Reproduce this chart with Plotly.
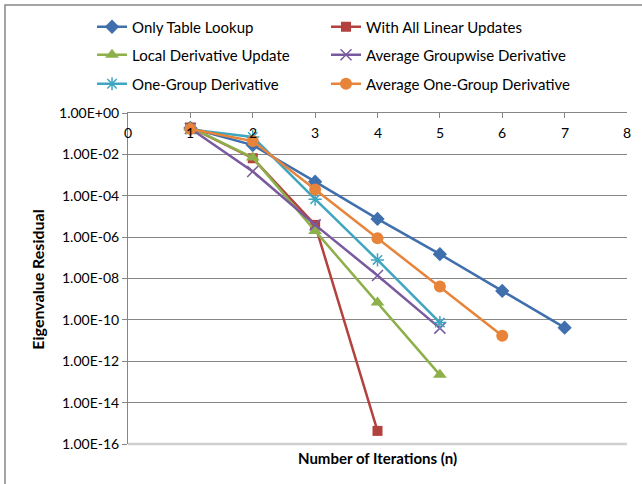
import plotly.graph_objects as go

iterations = [1, 2, 3, 4, 5, 6, 7]
only_table = [1.9e-1, 2.8e-2, 4.8e-4, 7.6e-6, 1.5e-7, 2.5e-9, 4.2e-11]
all_linear = [2.0e-1, 6.5e-3, 3.9e-6, 4.3e-16]
local_deriv = [2.0e-1, 7.0e-3, 2.0e-6, 6.9e-10, 2.2e-13]
avg_groupwise = [1.8e-1, 1.5e-3, 3.9e-6, 1.4e-8, 4.0e-11]
one_group = [1.6e-1, 7.0e-2, 6.8e-5, 7.9e-8, 7.4e-11]
avg_one_group = [1.7e-1, 4.4e-2, 2.0e-4, 8.8e-7, 4.1e-9, 1.7e-11]

y_tick_vals = [10.0 ** -k for k in range(0, 17, 2)]
y_tick_text = ["1.00E+00", "1.00E-02", "1.00E-04", "1.00E-06", "1.00E-08",
               "1.00E-10", "1.00E-12", "1.00E-14", "1.00E-16"]
x_ticks = [0, 1, 2, 3, 4, 5, 6, 7, 8]

series = [
    ("Only Table Lookup", only_table, "#3F6FAD", dict(symbol="diamond", size=11)),
    ("With All Linear Updates", all_linear, "#B3413E", dict(symbol="square", size=10)),
    ("Local Derivative Update", local_deriv, "#8DB04A", dict(symbol="triangle-up", size=12)),
    ("Average Groupwise Derivative", avg_groupwise, "#7A5A9E",
     dict(symbol="x-thin", size=11, line=dict(width=1.5, color="#7A5A9E"))),
    ("One-Group Derivative", one_group, "#3FA5C0",
     dict(symbol="asterisk", size=11, line=dict(width=1.5, color="#3FA5C0"))),
    ("Average One-Group Derivative", avg_one_group, "#E8833A", dict(symbol="circle", size=12)),
]

# legend slot positions (paper coords): two columns, three rows
legend_cols = [-0.0721, 0.3968]
legend_rows = [1.2598, 1.1752, 1.0876]

fig = go.Figure()
legend_layout = {}
for i, (name, vals, color, marker) in enumerate(series):
    m = dict(color=color)
    m.update(marker)
    lg = "legend" if i == 0 else f"legend{i + 1}"
    fig.add_trace(go.Scatter(
        x=iterations[:len(vals)], y=vals, name=name, mode="lines+markers",
        line=dict(color=color, width=2.5), marker=m, legend=lg,
    ))
    legend_layout[lg] = dict(
        orientation="h", x=legend_cols[i % 2], y=legend_rows[i // 2],
        xanchor="left", yanchor="middle", font=dict(size=15),
        itemwidth=30, bgcolor="rgba(0,0,0,0)")

font = dict(family="Lato, Open Sans, sans-serif", size=13, color="#000000")

annotations = [
    dict(text="<b>Number of Iterations (n)</b>", xref="paper", yref="paper",
         x=0.5, y=-0.042, xanchor="center", yanchor="middle", showarrow=False,
         font=dict(size=15)),
    dict(text="<b>Eigenvalue Residual</b>", xref="paper", yref="paper",
         x=-0.182, y=0.497, xanchor="center", yanchor="middle", showarrow=False,
         textangle=-90, font=dict(size=16)),
]
for t in x_ticks:
    annotations.append(dict(text=str(t), xref="x", yref="paper", x=t, y=0.9396,
                            xanchor="center", yanchor="middle", showarrow=False,
                            font=dict(size=14)))

fig.update_layout(
    width=642, height=484,
    margin=dict(l=128, r=15, t=113, b=40, autoexpand=False),
    paper_bgcolor="white", plot_bgcolor="white",
    font=font,
    showlegend=True,
    xaxis=dict(range=[0, 8], tickvals=x_ticks, side="top", ticks="inside", ticklen=5,
               tickcolor="#868686", showline=True, linecolor="#868686", linewidth=1,
               showgrid=False, zeroline=False, showticklabels=False, automargin=False),
    yaxis=dict(type="log", range=[-16, 0], tickvals=y_tick_vals, ticktext=y_tick_text,
               ticks="outside", ticklen=5, tickcolor="#868686", showline=True,
               linecolor="#868686", linewidth=1, showgrid=True, gridcolor="#868686",
               gridwidth=1, zeroline=False, tickfont=dict(size=14), automargin=False),
    annotations=annotations,
    shapes=[
        dict(type="rect", xref="paper", yref="paper", x0=-0.2465, y0=-0.3,
             x1=1.2, y1=1.326, line=dict(color="#868686", width=1.5), layer="below"),
        dict(type="line", xref="paper", yref="paper", x0=0, x1=1, y0=0, y1=0,
             line=dict(color="#D0D0D0", width=2.5), layer="below"),
    ],
    **legend_layout,
)

fig.write_html("out.html", config={"displayModeBar": False},
               post_script="document.body.style.margin='0';")
